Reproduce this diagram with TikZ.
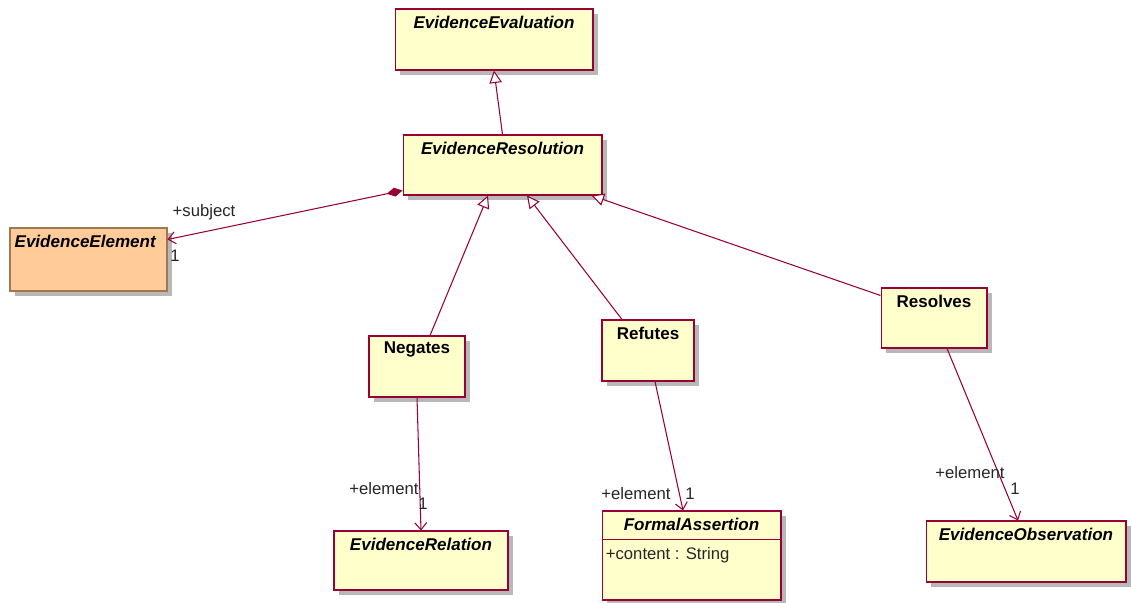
\documentclass[tikz,border=0pt]{standalone}
\usepackage{fontspec}
\setmainfont{Liberation Sans}
\usetikzlibrary{arrows.meta,shadows,calc}
\definecolor{umlline}{RGB}{153,0,51}
\definecolor{umlfill}{RGB}{255,255,204}
\definecolor{elemfill}{RGB}{255,204,153}
\definecolor{elemline}{RGB}{160,120,80}
\tikzset{
  cls/.style={draw=umlline, fill=umlfill, line width=0.6pt, inner sep=0pt,
    drop shadow={shadow xshift=0.1cm, shadow yshift=-0.1cm, fill=black!28, opacity=1}},
  cname/.style={anchor=center, yshift=-0.28cm, font=\fontsize{9.7}{11}\selectfont\bfseries},
  gen/.style={draw=umlline, line width=0.6pt, -{Triangle[open, length=0.25cm, width=0.25cm, fill=white]}},
  nav/.style={draw=umlline, line width=0.6pt, -{Straight Barb[length=0.14cm, width=0.24cm]}},
  role/.style={font=\fontsize{9.5}{11}\selectfont, text=black!85, inner sep=0pt}
}
\begin{document}
\begin{tikzpicture}[x=0.02cm,y=-0.02cm]
  \useasboundingbox (0,0) rectangle (1131,602);
  \node[cls, minimum width=3.96cm, minimum height=1.22cm, label={[cname]north:\textit{EvidenceEvaluation}}] (eval) at (494,39.5) {};
  \node[cls, minimum width=3.98cm, minimum height=1.2cm, label={[cname]north:\textit{EvidenceResolution}}] (resol) at (502.5,165) {};
  \node[cls, draw=elemline, fill=elemfill, minimum width=3.14cm, minimum height=1.26cm, label={[cname, xshift=-0.06cm]north:\textit{EvidenceElement}}] (elem) at (88.5,259.5) {};
  \node[cls, minimum width=1.92cm, minimum height=1.22cm, label={[cname]north:Negates}] (neg) at (417,366.5) {};
  \node[cls, minimum width=1.84cm, minimum height=1.22cm, label={[cname]north:Refutes}] (ref) at (648,350.5) {};
  \node[cls, minimum width=2.12cm, minimum height=1.2cm, label={[cname]north:Resolves}] (res) at (934,318) {};
  \node[cls, minimum width=3.48cm, minimum height=1.18cm, label={[cname]north:\textit{EvidenceRelation}}] (rel) at (421,560.5) {};
  \node[cls, minimum width=3.58cm, minimum height=1.78cm, label={[cname]north:\textit{FormalAssertion}}] (fa) at (691.5,555.5) {};
  \node[cls, minimum width=4cm, minimum height=1.22cm, label={[cname]north:\textit{EvidenceObservation}}] (obs) at (1026,551.5) {};
  \draw[umlline, line width=0.6pt] ($(fa.north west)+(0,29)$) -- ($(fa.north east)+(0,29)$);
  \node[role, anchor=west] (facontent) at ($(fa.west)+(4,0)$) {+content : String};

  \draw[gen] (resol.north) -- (eval.south);
  \draw[gen] ($(neg.north)+(13,0)$) -- ($(resol.south)+(-14.5,0)$);
  \draw[gen] ($(ref.north)+(-26,0)$) -- ($(resol.south)+(24.5,0)$);
  \draw[gen] ($(res.north west)+(0,8)$) -- ($(resol.south east)+(-11,0)$);
  \draw[nav, {Diamond[length=0.32cm, width=0.18cm, fill=umlline]}-{Straight Barb[length=0.14cm, width=0.24cm]}]
    ($(resol.south west)+(0,-5)$) -- ($(elem.north east)+(0,12)$);
  \draw[nav] (neg.south) -- (rel.north);
  \draw[nav] ($(ref.south)+(7,0)$) -- ($(fa.north)+(-8.5,0)$);
  \draw[nav] ($(res.south)+(13,0)$) -- ($(obs.north)+(-8,0)$);

  \node[role] (subj) at (204,212) {+subject};
  \node[role] (subjm) at (175,256) {1};
  \node[role] (nege) at (384,489) {+element};
  \node[role] (negm) at (423,504) {1};
  \node[role] (refe) at (636,494) {+element};
  \node[role] (refm) at (690,494) {1};
  \node[role] (rese) at (970,473) {+element};
  \node[role] (resm) at (1015,489) {1};
\end{tikzpicture}
\end{document}
